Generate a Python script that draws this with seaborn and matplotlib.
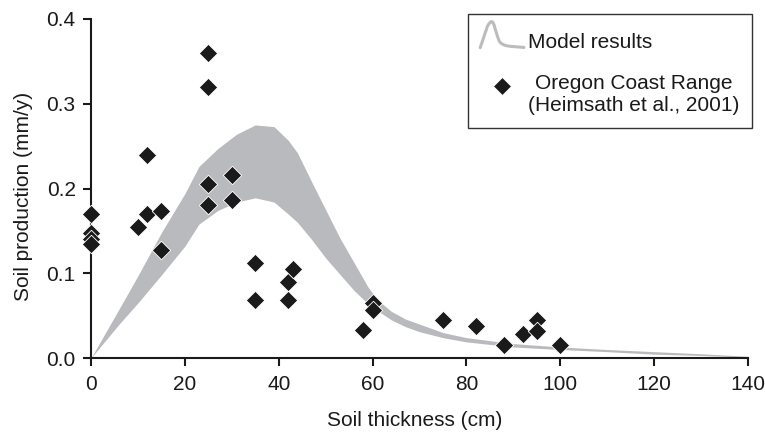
import matplotlib
matplotlib.use("Agg")
import matplotlib.pyplot as plt
from matplotlib.legend_handler import HandlerBase
from matplotlib.lines import Line2D
import seaborn as sns
import numpy as np
import pandas as pd

thickness = [0, 0, 0, 0, 10, 12, 12, 15, 15, 25, 25, 25, 25, 30, 30,
             35, 35, 42, 42, 43, 58, 60, 60, 75, 82, 88, 92, 95, 95, 100]
production = [0.170, 0.148, 0.140, 0.135, 0.155, 0.240, 0.170, 0.173, 0.128,
              0.360, 0.320, 0.205, 0.180, 0.216, 0.187, 0.112, 0.068, 0.090,
              0.068, 0.105, 0.033, 0.065, 0.057, 0.045, 0.038, 0.015, 0.028,
              0.045, 0.032, 0.015]

# model envelope (upper / lower edge of the grey band)
model_x = [0, 3, 6, 10, 15, 20, 23, 27, 31, 35, 39, 42, 44, 47, 50, 53, 56,
           59, 61, 64, 67, 70, 75, 80, 90, 100, 110, 120, 130, 140]
model_upper = [0.0, 0.029, 0.058, 0.097, 0.148, 0.194, 0.226, 0.247, 0.264,
               0.275, 0.273, 0.257, 0.242, 0.208, 0.175, 0.142, 0.113, 0.084,
               0.069, 0.055, 0.046, 0.040, 0.030, 0.024, 0.017, 0.013, 0.010,
               0.0075, 0.005, 0.002]
model_lower = [0.0, 0.020, 0.040, 0.065, 0.098, 0.132, 0.158, 0.174, 0.184,
               0.189, 0.184, 0.170, 0.160, 0.140, 0.118, 0.099, 0.080, 0.064,
               0.056, 0.045, 0.037, 0.031, 0.024, 0.019, 0.013, 0.010, 0.0075,
               0.0045, 0.003, 0.001]

xticks = [0, 20, 40, 60, 80, 100, 120, 140]
yticks = [0.0, 0.1, 0.2, 0.3, 0.4]

BAND = "#b9babd"
LEGEND_GRAY = "#bcbcbc"
INK = "#1a1a1a"
W, H = 765, 437


class PeakHandler(HandlerBase):
    # small curve glyph built from the model's own upper curve
    def create_artists(self, legend, orig_handle, xdescent, ydescent,
                       width, height, fontsize, trans):
        gx = np.asarray(model_x) / model_x[-1]
        gy = np.asarray(model_upper) / max(model_upper)
        xs = -xdescent + gx * width
        ys = gy * 1.25 * fontsize
        line = Line2D(xs, ys, color=LEGEND_GRAY, linewidth=2.2,
                      solid_capstyle="round")
        line.set_transform(trans)
        return [line]


class DiamondHandler(HandlerBase):
    # diamond lifted towards the first line of the two-line label
    def create_artists(self, legend, orig_handle, xdescent, ydescent,
                       width, height, fontsize, trans):
        y = (height - ydescent) / 2 + 0.25 * fontsize
        m = Line2D([-xdescent + width / 2], [y], linestyle="none",
                   marker="D", markersize=orig_handle.get_markersize(),
                   color=INK, markeredgecolor="white", markeredgewidth=0.6)
        m.set_transform(trans)
        return [m]


def main():
    sns.set_theme(style="ticks")
    plt.rcParams["font.family"] = ["Liberation Sans", "DejaVu Sans"]

    df = pd.DataFrame({"thickness": thickness, "production": production})

    fig = plt.figure(figsize=(W / 100, H / 100), dpi=100)
    ax = fig.add_axes([91 / W, 1 - 358 / H, (748 - 91) / W, (358 - 19) / H])

    ax.fill_between(model_x, model_lower, model_upper, color=BAND,
                    linewidth=0, zorder=1)
    sns.scatterplot(data=df, x="thickness", y="production", marker="D",
                    s=88, color=INK, edgecolor="white", linewidth=0.6,
                    ax=ax, zorder=3, clip_on=False, legend=False)

    ax.set_xlim(0, 140)
    ax.set_ylim(0, 0.4)
    ax.set_xticks(xticks)
    ax.set_yticks(yticks)
    ax.set_yticklabels([f"{v:.1f}" for v in yticks])

    sns.despine(ax=ax)
    for side in ("left", "bottom"):
        ax.spines[side].set_linewidth(1.5)
        ax.spines[side].set_color(INK)
    ax.tick_params(direction="out", length=6, width=1.5, color=INK,
                   labelsize=15, labelcolor=INK, pad=5)
    ax.tick_params(axis="x", pad=6.5)

    ax.set_xlabel("Soil thickness (cm)", fontsize=15, color=INK)
    ax.set_ylabel("Soil production (mm/y)", fontsize=15, color=INK)
    ax.xaxis.set_label_coords((414.5 - 91) / 657, (358 - 411) / 339)
    ax.yaxis.set_label_coords((33 - 91) / 657, (358 - 196) / 339)

    model_handle = Line2D([], [], color=LEGEND_GRAY)
    point_handle = Line2D([], [], linestyle="none", marker="D",
                          markersize=9, color=INK)
    leg = ax.legend([model_handle, point_handle],
                    ["Model results",
                     "Oregon Coast Range\n(Heimsath et al., 2001)"],
                    handler_map={model_handle: PeakHandler(),
                                 point_handle: DiamondHandler()},
                    loc="upper right", bbox_to_anchor=(752 / W, 1 - 14 / H),
                    bbox_transform=fig.transFigure, borderaxespad=0,
                    frameon=True, fancybox=False, edgecolor="#333333",
                    framealpha=1, fontsize=15, handlelength=2.1,
                    handleheight=1.75, handletextpad=0.2, borderpad=0.6,
                    labelspacing=0.9)
    leg.get_frame().set_linewidth(1.0)
    for t in leg.get_texts():
        t.set_multialignment("center")
        t.set_color(INK)

    fig.savefig("out.png", dpi=100)


if __name__ == "__main__":
    main()
